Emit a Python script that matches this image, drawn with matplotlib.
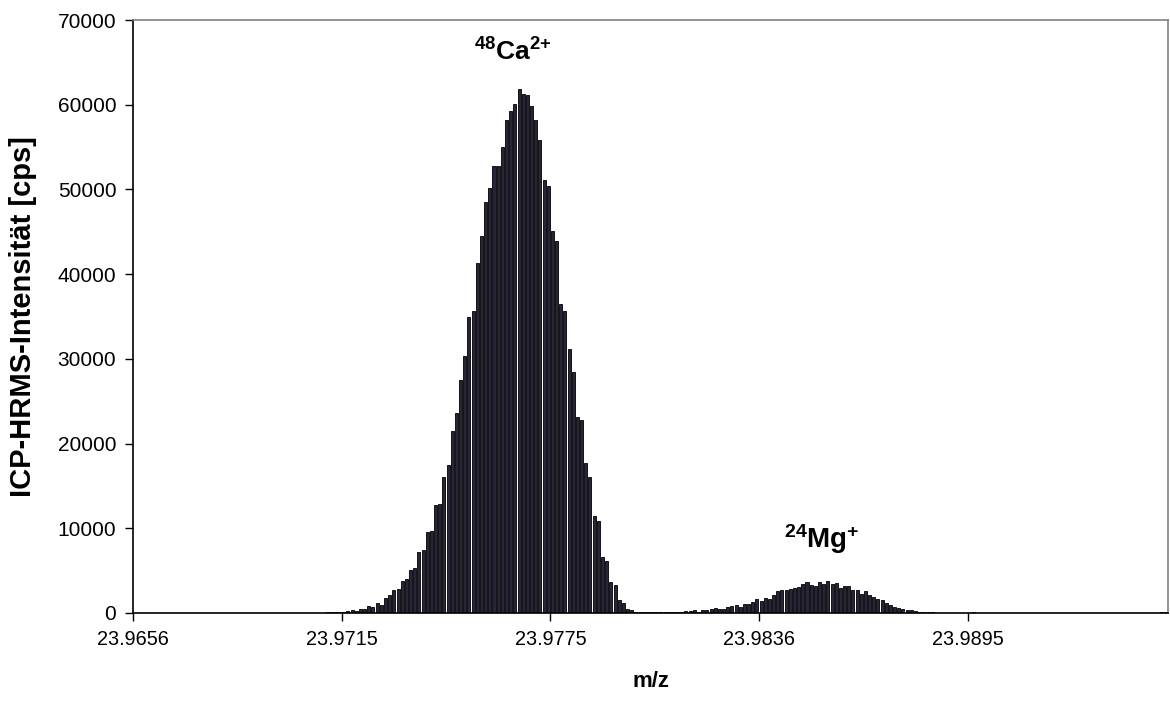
import matplotlib
matplotlib.use("Agg")
import matplotlib.pyplot as plt
import numpy as np

plt.rcParams['font.family'] = ['Liberation Sans', 'DejaVu Sans']
plt.rcParams['mathtext.fontset'] = 'custom'
plt.rcParams['mathtext.rm'] = 'Liberation Sans'
plt.rcParams['mathtext.bf'] = 'Liberation Sans:bold'

# ---- data (intensity per m/z channel, cps) ----
left_zero = [0] * 44
ca_peak = [40, 0, 80, 100, 110, 60, 150, 230, 390, 230, 470, 470, 780, 760,
           1180, 900, 1740, 2080, 2700, 2880, 3800, 4050, 5060, 5300, 7200, 7400,
           9560, 9680, 12700, 12900, 16000, 17500, 21500, 23600, 27500, 30300,
           35000, 35700, 41300, 44500, 48500, 50200, 52800, 52800, 55000, 58200,
           59200, 60100, 61800, 61300, 61200, 59900, 58200, 55800, 51100, 50400,
           45100, 43900, 36500, 35700, 31200, 28500, 23100, 22800, 17700, 16100,
           11400, 10900, 6600, 6150, 3620, 3280, 1480, 1200, 420, 310]
valley = [140, 120, 110, 110, 100, 100, 110, 110, 120, 130, 140, 160, 200]
mg_peak = [235, 310, 150, 390, 390, 510, 590, 420, 510, 760, 780, 900, 740,
           1100, 1100, 1290, 1700, 1390, 1780, 1650, 2160, 2630, 2670, 2700,
           2840, 2980, 3100, 3450, 3650, 3250, 3210, 3650, 3450, 3760, 3450,
           3570, 2940, 3210, 3210, 2740, 2670, 2270, 2550, 2080, 1880, 1610,
           1570, 1180, 940, 710, 630, 510, 390, 310, 235, 160, 120, 80, 80]
right_tail = [30, 20, 20, 20, 20, 20, 20, 20, 20, 80] + [0] * 44 + [100, 100]

intensity = left_zero + ca_peak + valley + mg_peak + right_tail
n = len(intensity)

tick_labels = ["23.9656", "23.9715", "23.9775", "23.9836", "23.9895"]
label_every = 50

fig = plt.figure(figsize=(11.7, 7.04), dpi=100)
ax = fig.add_axes([133 / 1170, 1 - 613 / 704, (1168 - 133) / 1170, (613 - 20) / 704])

x = np.arange(n)
ax.bar(x, intensity, width=0.72, color='#262638', edgecolor='black', linewidth=0.6)

ax.set_xlim(-0.5, n - 0.5)
ax.set_ylim(0, 70000)
ax.set_yticks(np.arange(0, 70001, 10000))
ax.set_yticklabels([str(v) for v in range(0, 70001, 10000)], fontsize=15)
ax.set_xticks([i * label_every - 0.5 for i in range(len(tick_labels))])
ax.set_xticklabels(tick_labels, fontsize=14.3)
ax.tick_params(axis='both', direction='out', length=6, width=1, colors='black', pad=6)

for s in ['left', 'bottom']:
    ax.spines[s].set_color('black')
    ax.spines[s].set_linewidth(1.2)
for s in ['top', 'right']:
    ax.spines[s].set_color('#808080')
    ax.spines[s].set_linewidth(1.2)

ax.set_xlabel('m/z', fontsize=16, fontweight='bold', labelpad=16)
ax.set_ylabel('ICP-HRMS-Intensität [cps]', fontsize=21, fontweight='bold', labelpad=15)

ax.text(90.5, 64600, r'$\mathbf{^{48}Ca^{2{+}}}$', fontsize=19, ha='center', va='bottom')
ax.text(164.5, 6700, r'$\mathbf{^{24}Mg^{{+}}}$', fontsize=20, ha='center', va='bottom')

fig.savefig('out.png', dpi=100)
